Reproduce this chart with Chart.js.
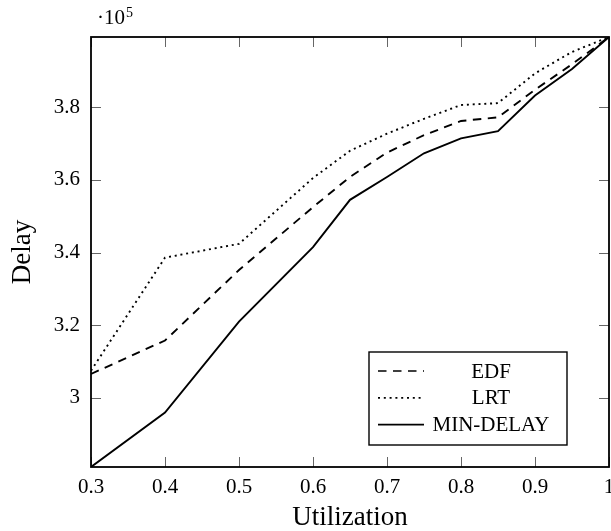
<!DOCTYPE html>
<html>
<head>
<meta charset="utf-8">
<script src="https://cdn.jsdelivr.net/npm/chart.js@4.4.1/dist/chart.umd.min.js"></script>
<style>
  html, body { margin: 0; padding: 0; background: #fff; }
  #wrap { width: 611px; height: 531px; }
</style>
</head>
<body>
<div id="wrap"><canvas id="delayChart" width="611" height="531"></canvas></div>
<script>
// utilization (x) and delay values (y, raw units; axis shows them /1e5)
const utilization = [0.3, 0.4, 0.5, 0.6, 0.65, 0.7, 0.75, 0.8, 0.85, 0.9, 0.95, 1];
const edfDelay    = [306600, 315800, 335200, 352500, 360800, 367500, 372300, 376200, 377200, 384800, 391800, 399300];
const lrtDelay    = [307500, 338600, 342400, 360500, 368000, 372700, 376800, 380600, 381100, 389300, 395200, 399300];
const minDelay    = [281000, 296000, 321000, 341500, 354500, 360800, 367300, 371400, 373400, 383200, 390500, 399300];
const xTicks = [0.3, 0.4, 0.5, 0.6, 0.7, 0.8, 0.9, 1];
const yTicks = [300000, 320000, 340000, 360000, 380000];

const SERIF = "'Liberation Serif', 'Times New Roman', serif";

(function () {
  const canvas = document.getElementById("delayChart");
  const ctx = canvas.getContext("2d");

  const toPts = ys => utilization.map((x, i) => ({ x, y: ys[i] }));
  const line = (label, data, dash) => ({
    label, data: toPts(data),
    borderColor: "#000", borderWidth: 1.9, borderDash: dash,
    pointRadius: 0, tension: 0, fill: false
  });

  // frame, inward ticks, exponent label and the boxed legend
  const decor = {
    id: "decor",
    afterDatasetsDraw(chart) {
      const { ctx, chartArea: a, scales: { x, y } } = chart;
      ctx.save();
      ctx.strokeStyle = "#666";
      ctx.lineWidth = 1;
      ctx.beginPath();
      x.ticks.forEach(t => {
        const px = Math.round(x.getPixelForValue(t.value)) + 0.5;
        ctx.moveTo(px, a.bottom); ctx.lineTo(px, a.bottom - 10);
        ctx.moveTo(px, a.top);    ctx.lineTo(px, a.top + 10);
      });
      y.ticks.forEach(t => {
        const py = Math.round(y.getPixelForValue(t.value)) + 0.5;
        ctx.moveTo(a.left, py);  ctx.lineTo(a.left + 10, py);
        ctx.moveTo(a.right, py); ctx.lineTo(a.right - 10, py);
      });
      ctx.stroke();

      ctx.strokeStyle = "#000";
      ctx.lineWidth = 1.8;
      ctx.strokeRect(a.left, a.top, a.right - a.left, a.bottom - a.top);

      // ·10^5
      ctx.fillStyle = "#000";
      ctx.textBaseline = "alphabetic";
      ctx.textAlign = "left";
      ctx.font = "21px " + SERIF;
      const base = "\u00b710";
      ctx.fillText(base, 97, 24);
      const w = ctx.measureText(base).width;
      ctx.font = "14px " + SERIF;
      ctx.fillText("5", 97 + w + 1, 17);

      // legend
      const bx = 369, by = 352, bw = 198, bh = 93;
      ctx.fillStyle = "#fff";
      ctx.fillRect(bx, by, bw, bh);
      ctx.lineWidth = 1.4;
      ctx.strokeRect(bx, by, bw, bh);
      ctx.font = "21px " + SERIF;
      ctx.textAlign = "center";
      ctx.textBaseline = "middle";
      chart.data.datasets.forEach((ds, i) => {
        const ry = 371 + i * 26.8;
        ctx.beginPath();
        ctx.setLineDash(ds.borderDash || []);
        ctx.lineWidth = 1.7;
        ctx.moveTo(378, ry); ctx.lineTo(424, ry);
        ctx.stroke();
        ctx.setLineDash([]);
        ctx.fillStyle = "#000";
        ctx.fillText(ds.label, 491, ry + 1);
      });
      ctx.restore();
    }
  };

  new Chart(ctx, {
    type: "line",
    data: {
      datasets: [
        line("EDF", edfDelay, [8.5, 6.5]),
        line("LRT", lrtDelay, [2, 3.8]),
        line("MIN-DELAY", minDelay, [])
      ]
    },
    options: {
      responsive: false,
      animation: false,
      layout: { padding: { left: 0, right: 2, top: 37, bottom: 0 } },
      plugins: { legend: { display: false }, tooltip: { enabled: false } },
      scales: {
        x: {
          type: "linear", min: 0.3, max: 1,
          afterBuildTicks: s => { s.ticks = xTicks.map(v => ({ value: v })); },
          afterFit: s => { s.height = 64; s.paddingLeft = 0; s.paddingRight = 0; },
          grid: { drawOnChartArea: false, drawTicks: false },
          border: { display: false },
          ticks: {
            color: "#000", padding: 8, maxRotation: 0,
            font: { family: SERIF, size: 21 },
            callback: v => String(Math.round(v * 100) / 100)
          },
          title: {
            display: true, text: "Utilization", color: "#000",
            font: { family: SERIF, size: 27, lineHeight: 1 },
            padding: { top: 0, bottom: 0 }
          }
        },
        y: {
          min: 281000, max: 399300,
          afterBuildTicks: s => { s.ticks = yTicks.map(v => ({ value: v })); },
          afterFit: s => { s.width = 91; s.paddingTop = 0; s.paddingBottom = 0; },
          grid: { drawOnChartArea: false, drawTicks: false },
          border: { display: false },
          ticks: {
            color: "#000", padding: 11,
            font: { family: SERIF, size: 21 },
            callback: v => String(Math.round(v / 1e4) / 10)
          },
          title: {
            display: true, text: "Delay", color: "#000",
            font: { family: SERIF, size: 27, lineHeight: 1 },
            padding: { top: 9, bottom: 0 }
          }
        }
      }
    },
    plugins: [decor]
  });
})();
</script>
</body>
</html>
